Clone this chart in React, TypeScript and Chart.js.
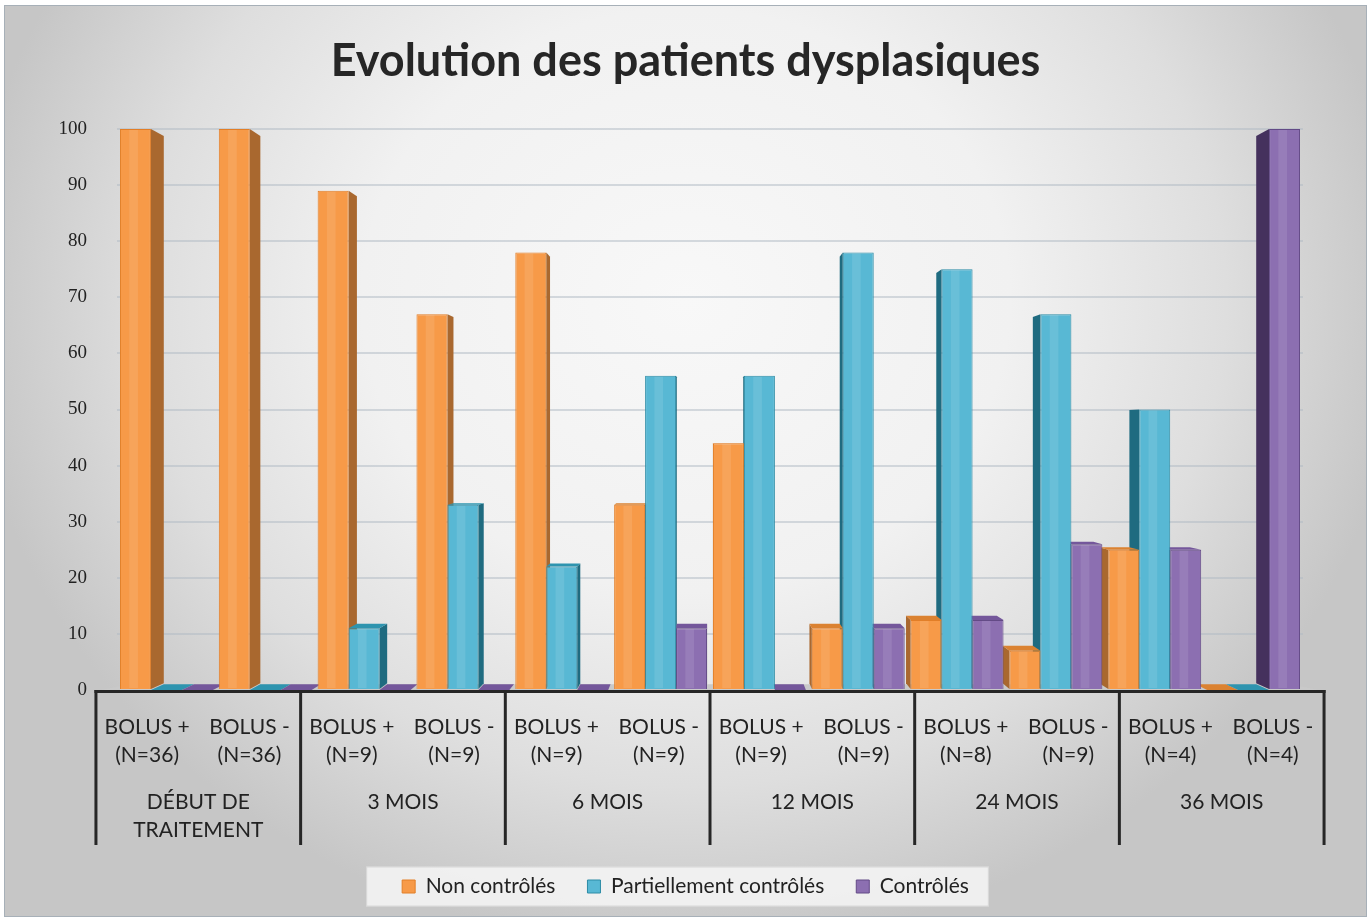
import React, { useEffect, useRef } from "react";
import { Chart, registerables } from "chart.js";

Chart.register(...registerables);

const TITLE = "Evolution des patients dysplasiques";
const CATEGORY_TOP = ["BOLUS +", "BOLUS -", "BOLUS +", "BOLUS -", "BOLUS +", "BOLUS -", "BOLUS +", "BOLUS -", "BOLUS +", "BOLUS -", "BOLUS +", "BOLUS -"];
const CATEGORY_N = ["(N=36)", "(N=36)", "(N=9)", "(N=9)", "(N=9)", "(N=9)", "(N=9)", "(N=9)", "(N=8)", "(N=9)", "(N=4)", "(N=4)"];
const GROUP_LABELS = [["DÉBUT DE", "TRAITEMENT"], ["3 MOIS"], ["6 MOIS"], ["12 MOIS"], ["24 MOIS"], ["36 MOIS"]];
const SERIES_NAMES = ["Non contrôlés", "Partiellement contrôlés", "Contrôlés"];
const NON_CONTROLES = [100, 100, 89, 67, 78, 33, 44, 11, 12.5, 7, 25, 0];
const PARTIELLEMENT = [0, 0, 11, 33, 22, 56, 56, 78, 75, 67, 50, 0];
const CONTROLES = [0, 0, 0, 0, 0, 11, 0, 11, 12.5, 26, 25, 100];
const Y_MIN = 0;
const Y_MAX = 100;
const Y_STEP = 10;

// styles
const FRONT = ["#F79A48", "#58B8D4", "#8C6FB1"];
const BORDER = ["#E27E27", "#2C8CA6", "#634A86"];
const SIDE = ["#A9682F", "#1F6B80", "#45315D"];
const TOP = ["#DB8231", "#2E94AF", "#74579B"];
const DEPTH = 0.023;
const VANISH_FRAC = 0.547;
const LABEL_SCALE = 1.0355;
const LABEL_FONT = "21px Lato";
const TEXT_COLOR = "#222222";

function poly(ctx: CanvasRenderingContext2D, pts: number[][], fill: string) {
  ctx.beginPath();
  ctx.moveTo(pts[0][0], pts[0][1]);
  for (let i = 1; i < pts.length; i++) ctx.lineTo(pts[i][0], pts[i][1]);
  ctx.closePath();
  ctx.fillStyle = fill;
  ctx.fill();
}

const backgroundPlugin = {
  id: "bg",
  beforeDraw(chart: any) {
    const { ctx, width, height } = chart;
    ctx.save();
    ctx.fillStyle = "#ffffff";
    ctx.fillRect(0, 0, width, height);
    ctx.beginPath();
    ctx.rect(5, 5, width - 10, height - 10);
    ctx.clip();
    ctx.translate(686, 300);
    ctx.scale(1, 0.9);
    const g = ctx.createRadialGradient(0, 0, 0, 0, 0, 720);
    g.addColorStop(0, "#f8f8f8");
    g.addColorStop(0.45, "#f1f1f1");
    g.addColorStop(0.75, "#dedede");
    g.addColorStop(1, "#c6c6c6");
    ctx.fillStyle = g;
    ctx.fillRect(-800, -800, 1600, 1800);
    ctx.restore();
    ctx.save();
    ctx.strokeStyle = "#a7b0b8";
    ctx.lineWidth = 1;
    ctx.strokeRect(4.5, 5.5, width - 9, height - 11);
    // legend box
    const lg = chart.legend;
    if (lg && lg.legendHitBoxes && lg.legendHitBoxes.length) {
      const hb = lg.legendHitBoxes;
      const first = hb[0];
      const last = hb[hb.length - 1];
      const cy = first.top + first.height / 2;
      const left = first.left - 36;
      const right = last.left + last.width + 20;
      ctx.fillStyle = "rgba(246,246,246,0.85)";
      ctx.fillRect(left, cy - 20, right - left, 40);
      ctx.strokeStyle = "rgba(200,200,200,0.6)";
      ctx.strokeRect(left + 0.5, cy - 19.5, right - left - 1, 39);
    }
    ctx.restore();
  },
};

const prismPlugin = {
  id: "prism3d",
  beforeDatasetsDraw(chart: any) {
    const { ctx, chartArea } = chart;
    const cx = (chartArea.left + chartArea.right) / 2;
    const vy = chartArea.top + (chartArea.bottom - chartArea.top) * VANISH_FRAC;
    const proj = (x: number, y: number) => [x + (cx - x) * DEPTH, y + (vy - y) * DEPTH];
    const yb = chartArea.bottom;
    const lx = cx + (chartArea.left - cx) * LABEL_SCALE;
    const rx = cx + (chartArea.right - cx) * LABEL_SCALE;
    ctx.save();
    const bl = proj(chartArea.left, yb);
    const br = proj(chartArea.right, yb);
    poly(ctx, [[lx, yb + 1], [rx, yb + 1], br, bl], "#c9c9c9");
    const sides: any[] = [];
    const tops: any[] = [];
    chart.data.datasets.forEach((_ds: any, di: number) => {
      const meta = chart.getDatasetMeta(di);
      meta.data.forEach((el: any) => {
        const { x, y, base, width } = el.getProps(["x", "y", "base", "width"], true);
        const x0 = x - width / 2;
        const x1 = x + width / 2;
        const yt = Math.min(y, base);
        const yB = Math.max(y, base);
        const ex = x < cx ? x1 : x0;
        sides.push({ pts: [[ex, yt], proj(ex, yt), proj(ex, yB), [ex, yB]], c: SIDE[di] });
        if (yt > vy) {
          tops.push({ pts: [[x0, yt], [x1, yt], proj(x1, yt), proj(x0, yt)], c: TOP[di] });
        }
      });
    });
    sides.forEach((s) => poly(ctx, s.pts, s.c));
    tops.forEach((s) => poly(ctx, s.pts, s.c));
    ctx.restore();
  },
  afterDatasetsDraw(chart: any) {
    const { ctx } = chart;
    ctx.save();
    chart.data.datasets.forEach((_ds: any, di: number) => {
      const meta = chart.getDatasetMeta(di);
      meta.data.forEach((el: any) => {
        const { x, y, base, width } = el.getProps(["x", "y", "base", "width"], true);
        const h = Math.abs(base - y);
        if (h < 2) return;
        const x0 = x - width / 2;
        ctx.fillStyle = "rgba(255,255,255,0.10)";
        ctx.fillRect(x0 + width * 0.3, Math.min(y, base) + 1, width * 0.28, h - 2);
      });
    });
    ctx.restore();
  },
};

const labelsPlugin = {
  id: "multiLabels",
  afterDraw(chart: any) {
    const { ctx, chartArea } = chart;
    const xs = chart.scales.x;
    const cx = (chartArea.left + chartArea.right) / 2;
    const L = (px: number) => cx + (px - cx) * LABEL_SCALE;
    const n = chart.data.labels.length;
    const half = (xs.getPixelForValue(1) - xs.getPixelForValue(0)) / 2;
    const yb = chartArea.bottom;
    ctx.save();
    ctx.strokeStyle = "#262626";
    ctx.lineWidth = 3;
    ctx.beginPath();
    ctx.moveTo(L(xs.getPixelForValue(0) - half) - 1.5, yb + 1.5);
    ctx.lineTo(L(xs.getPixelForValue(n - 1) + half) + 1.5, yb + 1.5);
    ctx.stroke();
    for (let g = 0; g <= GROUP_LABELS.length; g++) {
      const px = g < GROUP_LABELS.length ? xs.getPixelForValue(2 * g) - half : xs.getPixelForValue(n - 1) + half;
      const X = L(px);
      ctx.beginPath();
      ctx.moveTo(X, yb);
      ctx.lineTo(X, yb + 155);
      ctx.stroke();
    }
    ctx.fillStyle = TEXT_COLOR;
    ctx.font = LABEL_FONT;
    ctx.textAlign = "center";
    ctx.textBaseline = "middle";
    for (let i = 0; i < n; i++) {
      const X = L(xs.getPixelForValue(i));
      ctx.fillText(CATEGORY_TOP[i], X, yb + 37);
      ctx.fillText(CATEGORY_N[i], X, yb + 65);
    }
    GROUP_LABELS.forEach((lines, g) => {
      const X = L((xs.getPixelForValue(2 * g) + xs.getPixelForValue(2 * g + 1)) / 2);
      lines.forEach((t, k) => ctx.fillText(t, X, yb + 112 + k * 28));
    });
    ctx.restore();
  },
};

export default function App() {
  const ref = useRef<HTMLCanvasElement | null>(null);
  useEffect(() => {
    document.body.style.margin = "0";
    if (!ref.current) return;
    const series = [NON_CONTROLES, PARTIELLEMENT, CONTROLES];
    const chart = new Chart(ref.current, {
      type: "bar",
      data: {
        labels: CATEGORY_TOP.map((t, i) => [t, CATEGORY_N[i]]),
        datasets: series.map((d, i) => ({
          label: SERIES_NAMES[i],
          data: d,
          backgroundColor: FRONT[i],
          borderColor: BORDER[i],
          borderWidth: 1,
          categoryPercentage: 0.94,
          barPercentage: 1,
        })),
      },
      options: {
        animation: false,
        responsive: false,
        layout: { padding: { left: 0, right: 0, top: 0, bottom: 15 } },
        plugins: {
          title: {
            display: true,
            text: TITLE,
            color: "#262626",
            font: { family: "Lato", weight: "bold", size: 45 },
            padding: { top: 34, bottom: 41 },
          },
          legend: {
            position: "bottom",
            labels: {
              font: { family: "Lato", size: 21 },
              color: TEXT_COLOR,
              boxWidth: 13,
              boxHeight: 13,
              padding: 32,
            },
          },
          tooltip: { enabled: false },
        },
        scales: {
          x: {
            grid: { display: false },
            border: { display: false },
            ticks: { display: false },
            afterFit: (s: any) => {
              s.height = 154;
            },
          },
          y: {
            min: Y_MIN,
            max: Y_MAX,
            ticks: {
              stepSize: Y_STEP,
              padding: 30,
              color: "#222222",
              font: { family: "Liberation Serif", size: 19 },
            },
            grid: { color: "rgba(175,185,195,0.5)", lineWidth: 2, drawTicks: false },
            border: { display: false },
            afterFit: (s: any) => {
              s.width = 117;
            },
          },
          yRight: {
            type: "linear",
            position: "right",
            grid: { display: false },
            border: { display: false },
            ticks: { display: false },
            afterFit: (s: any) => {
              s.width = 68;
            },
          },
        },
      } as any,
      plugins: [backgroundPlugin, prismPlugin, labelsPlugin],
    });
    return () => chart.destroy();
  }, []);
  return (
    <div style={{ width: 1371, height: 922 }}>
      <canvas ref={ref} width={1371} height={922} style={{ display: "block" }} />
    </div>
  );
}
